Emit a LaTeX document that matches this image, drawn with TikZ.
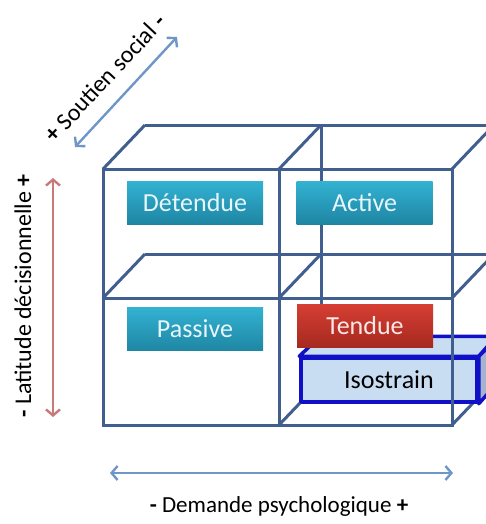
\documentclass[tikz,border=0pt]{standalone}
\usepackage{fontspec}
\setmainfont{Carlito}
\usetikzlibrary{arrows.meta}
\definecolor{CubeLine}{HTML}{405F8E}
\definecolor{BoxTop}{HTML}{33B2D2}
\definecolor{BoxBottom}{HTML}{1E86A3}
\definecolor{HotTop}{HTML}{D63E33}
\definecolor{HotBottom}{HTML}{A5291F}
\definecolor{IsoLine}{HTML}{1010C8}
\definecolor{IsoFill}{HTML}{C9DDF2}
\definecolor{IsoSide}{HTML}{A3B5CE}
\definecolor{AxisBlue}{HTML}{6F96C9}
\definecolor{AxisRed}{HTML}{C97A78}

\begin{document}
\begin{tikzpicture}[x=1pt,y=-1pt,
    cube/.style={draw=CubeLine,line width=3pt},
    quadrant/.style={minimum width=136pt,minimum height=43pt,inner sep=0pt,
      text=white!88!BoxTop,font=\fontsize{26}{30}\selectfont,
      top color=BoxTop,bottom color=BoxBottom},
    hot/.style={quadrant,text=white!88!HotTop,top color=HotTop,bottom color=HotBottom},
    iso3d/.style={draw=IsoLine,line width=3.5pt,line join=round},
    axisarrow/.style={line width=2.4pt,{Straight Barb[length=6pt,width=14pt]}-{Straight Barb[length=6pt,width=14pt]}},
    axislabel/.style={font=\fontsize{24}{28}\selectfont,inner sep=0pt}]
        \useasboundingbox (0,0) rectangle (486,524);
        \clip (0,0) rectangle (486,524);

        % back of the cube
        \draw[cube] (145,125) -- (494,125);
        \draw[cube] (145,254) -- (494,254);
        \draw[cube] (321,125) -- (321,381);
        \draw[cube] (494,125) -- (494,381);
        \draw[cube] (321,381) -- (494,381);
        % depth edges
        \draw[cube] (103,169) -- (145,125);
        \draw[cube] (279,169) -- (321,125);
        \draw[cube] (452,169) -- (494,125);
        \draw[cube] (103,298) -- (145,254);
        \draw[cube] (279,298) -- (321,254);
        \draw[cube] (452,298) -- (494,254);
        \draw[cube] (279,425) -- (321,381);
        \draw[cube] (452,425) -- (494,381);

        % isostrain block
        \node[iso3d,fill=IsoFill,minimum width=176pt,minimum height=44pt,inner sep=0pt,
          font=\fontsize{26}{30}\selectfont] (iso) at (389,380) {Isostrain};
        \filldraw[iso3d,fill=IsoFill] (iso.north west) -- ++(21,-20) -- ++(176,0) -- (iso.north east) -- cycle;
        \filldraw[iso3d,fill=IsoSide] (iso.north east) -- ++(21,-20) -- ++(0,44) -- (iso.south east) -- cycle;

        % front of the cube
        \draw[cube] (103,169) rectangle (452,425);
        \draw[cube] (279,169) -- (279,425);
        \draw[cube] (103,298) -- (452,298);

        \node[quadrant] (detendue) at (195,202.5) {Détendue};
        \node[quadrant] (active) at (364.5,202.5) {Active};
        \node[quadrant] (passive) at (195,329) {Passive};
        \node[hot] (tendue) at (365,326) {Tendue};

        % axes
        \coordinate (lat-bot) at (53,417);
        \coordinate (lat-top) at (53,178);
        \draw[axisarrow,AxisRed] (lat-bot) -- (lat-top);
        \node[axislabel,rotate=90] (latitude) at (23,296) {\textbf{-} Latitude décisionnelle \textbf{+}};

        \coordinate (dem-left) at (110,473);
        \coordinate (dem-right) at (453,473);
        \draw[axisarrow,AxisBlue] (dem-left) -- (dem-right);
        \node[axislabel,font=\fontsize{23}{27}\selectfont] (demande) at (279,506) {\textbf{-} Demande psychologique \textbf{+}};

        \coordinate (sout-low) at (75,147);
        \coordinate (sout-high) at (177,37);
        \draw[axisarrow,AxisBlue] (sout-low) -- (sout-high);
        \node[axislabel,rotate=47] (soutien) at (105,78) {\textbf{+} Soutien social \textbf{-}};
      \end{tikzpicture}
\end{document}
